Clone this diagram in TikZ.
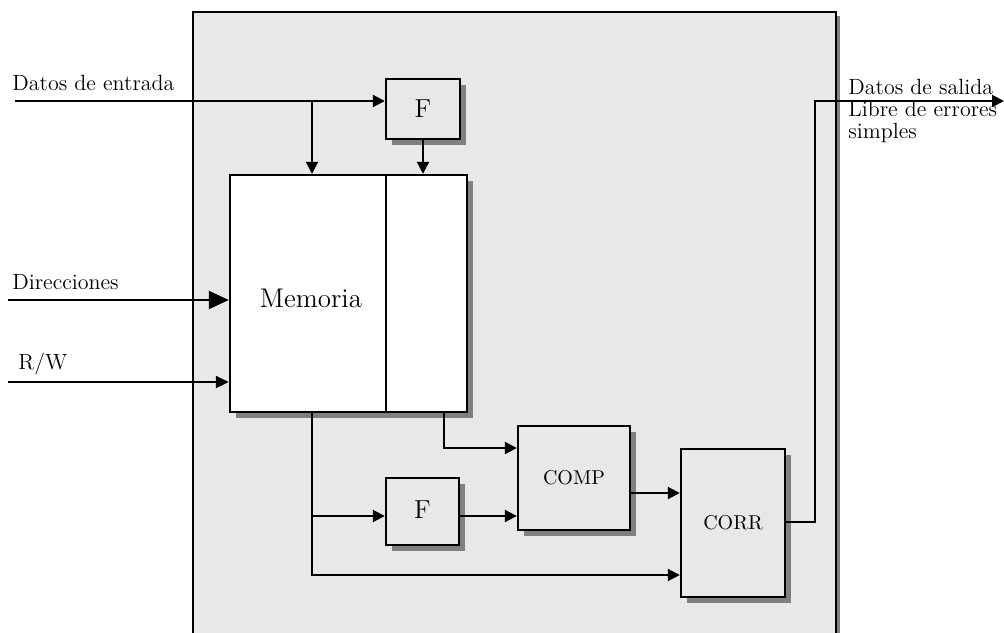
\documentclass[tikz,border=0pt]{standalone}
\usepackage{tikz}
\usepackage{xcolor}
\usetikzlibrary{arrows.meta,shadows}
\definecolor{chipgray}{RGB}{232,232,232}
\definecolor{shadowgray}{RGB}{128,128,128}

\tikzset{
  blk/.style={draw, line width=1.2pt, fill=chipgray, inner sep=0pt,
    drop shadow={shadow xshift=3pt, shadow yshift=-3pt, fill=shadowgray, opacity=1}},
  memblk/.style={blk, fill=white},
  sig/.style={line width=1pt, -{Triangle[length=6pt, width=6pt]}},
  bigsig/.style={line width=1pt, -{Triangle[length=10pt, width=9pt]}},
  lbl/.style={inner sep=0pt, font=\fontsize{11}{11}\selectfont}
}

\begin{document}
\begin{tikzpicture}[x=0.5pt, y=-0.5pt]
    \useasboundingbox (0,0) rectangle (1004,632);

    % chip
    \node[draw, line width=0.8pt, fill=chipgray, inner sep=0pt,
      minimum width=321.5pt, minimum height=324pt,
      drop shadow={shadow xshift=2pt, shadow yshift=-2pt, fill=shadowgray, opacity=1}]
      (chip) at (514.5,336) {};

    % blocks
    \node[blk, minimum width=37pt, minimum height=30pt, font=\fontsize{13}{13}\selectfont] (F1) at (423,109) {F};
    \node[memblk, minimum width=78pt, minimum height=118.5pt] (memL) at (308,293.5) {};
    \node[memblk, minimum width=40.5pt, minimum height=118.5pt] (memR) at (426.5,293.5) {};
    \node[inner sep=0pt, font=\fontsize{13.5}{13.5}\selectfont] (memtxt) at (311,298) {Memoria};
    \node[blk, minimum width=36.5pt, minimum height=33.5pt, font=\fontsize{13}{13}\selectfont] (F2) at (422.5,511.5) {\raisebox{2pt}{F}};
    \node[blk, minimum width=56pt, minimum height=52pt, font=\fontsize{10}{10}\selectfont] (comp) at (574,478) {COMP};
    \node[blk, minimum width=52pt, minimum height=74pt, font=\fontsize{10}{10}\selectfont] (corr) at (733,523) {CORR};

    % labels
    \node[lbl, anchor=west] (dinlbl) at (12,83) {Datos de entrada};
    \node[lbl, anchor=west] (dirlbl) at (12,282) {Direcciones};
    \node[lbl, anchor=west] (rwlbl) at (18,364) {R/W};
    \node[lbl, anchor=north west, align=left] (outlbl) at (848,79)
      {Datos de salida\\Libre de errores\\simples};

    % points
    \coordinate (din) at (15,101);
    \coordinate (j1) at (312,101);
    \coordinate (dir) at (8,300);
    \coordinate (rw) at (8,382);
    \coordinate (j2) at (312,575);
    \coordinate (j3) at (312,516);
    \coordinate (j4) at (444,448);
    \coordinate (j5) at (630,493);
    \coordinate (j6) at (815,522);
    \coordinate (j7) at (815,101);
    \coordinate (dout) at (1004,101);

    % inputs
    \draw[sig] (din) -- (din -| F1.west);
    \draw[sig] (j1) -- (j1 |- memL.north);
    \draw[sig] (F1.south) -- (F1.south |- memR.north);
    \draw[bigsig] (dir) -- (dir -| memL.west);
    \draw[line width=1pt, -{Triangle[length=6.5pt, width=6pt]}] (rw) -- (rw -| memL.west);

    % read path
    \draw[sig] (j1 |- memL.south) -- (j2) -- (j2 -| corr.west);
    \draw[sig] (j3) -- (j3 -| F2.west);
    \draw[sig] (F2.east |- j3) -- (j3 -| comp.west);
    \draw[sig] (j4 |- memR.south) -- (j4) -- (j4 -| comp.west);
    \draw[sig] (j5) -- (j5 -| corr.west);

    % output
    \draw[sig] (corr.east |- j6) -- (j6) -- (j7) -- (dout);
\end{tikzpicture}
\end{document}
